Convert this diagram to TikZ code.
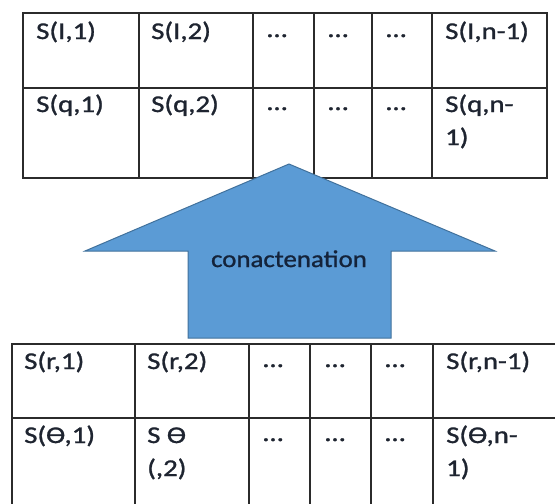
\documentclass[tikz,border=0pt]{standalone}
\usepackage{fontspec}
\setmainfont{Carlito}
\newfontfamily\cellfont[FakeStretch=1.2,FakeBold=1.2]{Carlito}
\newfontfamily\arrfont[FakeStretch=1.12,FakeBold=1]{Carlito}
\definecolor{gridcol}{HTML}{2B2B2B}
\definecolor{txtcol}{HTML}{1E2430}
\definecolor{arrfill}{HTML}{5B9BD5}
\definecolor{arrdraw}{HTML}{41719C}
\definecolor{lbltxt}{HTML}{14233A}
\newcommand{\twoline}[2]{\parbox[t]{110pt}{\raggedright #1\\#2}}
\begin{document}
\begin{tikzpicture}[x=1pt,y=-1pt,
  gridline/.style={line width=1.6pt, draw=gridcol, line cap=rect},
  celltxt/.style={anchor=base west, inner sep=0pt, text=txtcol,
    font=\cellfont\fontsize{24}{33}\selectfont},
  arrowshape/.style={fill=arrfill, draw=arrdraw, line width=1pt, line join=miter},
  arrlabel/.style={anchor=base, inner sep=0pt, text=lbltxt,
    font=\arrfont\fontsize{24}{28}\selectfont}]
\useasboundingbox (0,0) rectangle (555,504);
\clip (0,0) rectangle (555,504);

% ---------- top table ----------
\draw[gridline] (23,13) rectangle (547,178);
\draw[gridline] (23,88) -- (547,88);
\foreach \cx in {139,253,314,372,432} \draw[gridline] (\cx,13) -- (\cx,178);

\node[celltxt] (t11) at (36,39) {S(I,1)};
\node[celltxt] (t12) at (151,39) {S(I,2)};
\node[celltxt] (t13) at (267,37) {…};
\node[celltxt] (t14) at (328,37) {…};
\node[celltxt] (t15) at (386,37) {…};
\node[celltxt] (t16) at (445,39) {S(I,n-1)};

\node[celltxt] (t21) at (36,112) {S(q,1)};
\node[celltxt] (t22) at (151,112) {S(q,2)};
\node[celltxt] (t23) at (267,110) {…};
\node[celltxt] (t24) at (328,110) {…};
\node[celltxt] (t25) at (386,110) {…};
\node[celltxt] (t26) at (445,112) {\twoline{S(q,n-}{1)}};

% ---------- bottom table ----------
\draw[gridline] (12,520) -- (12,344) -- (570,344);
\draw[gridline] (12,418) -- (570,418);
\foreach \cx in {135,249,310,371,433} \draw[gridline] (\cx,344) -- (\cx,520);

\node[celltxt] (b11) at (24,369) {S(r,1)};
\node[celltxt] (b12) at (147,369) {S(r,2)};
\node[celltxt] (b13) at (263,367) {…};
\node[celltxt] (b14) at (325,367) {…};
\node[celltxt] (b15) at (385,367) {…};
\node[celltxt] (b16) at (446,369) {S(r,n-1)};

\node[celltxt] (b21) at (24,443) {S(Ɵ,1)};
\node[celltxt] (b22) at (147,443) {\twoline{S Ɵ}{(,2)}};
\node[celltxt] (b23) at (263,441) {…};
\node[celltxt] (b24) at (325,441) {…};
\node[celltxt] (b25) at (385,441) {…};
\node[celltxt] (b26) at (446,443) {\twoline{S(Ɵ,n-}{1)}};

% ---------- block arrow ----------
\draw[arrowshape] (289,164) -- (495,251) -- (391,251) -- (391,338)
  -- (188,338) -- (188,251) -- (85,251) -- cycle;
\node[arrlabel] (lbl) at (289,267) {conactenation};
\end{tikzpicture}
\end{document}
